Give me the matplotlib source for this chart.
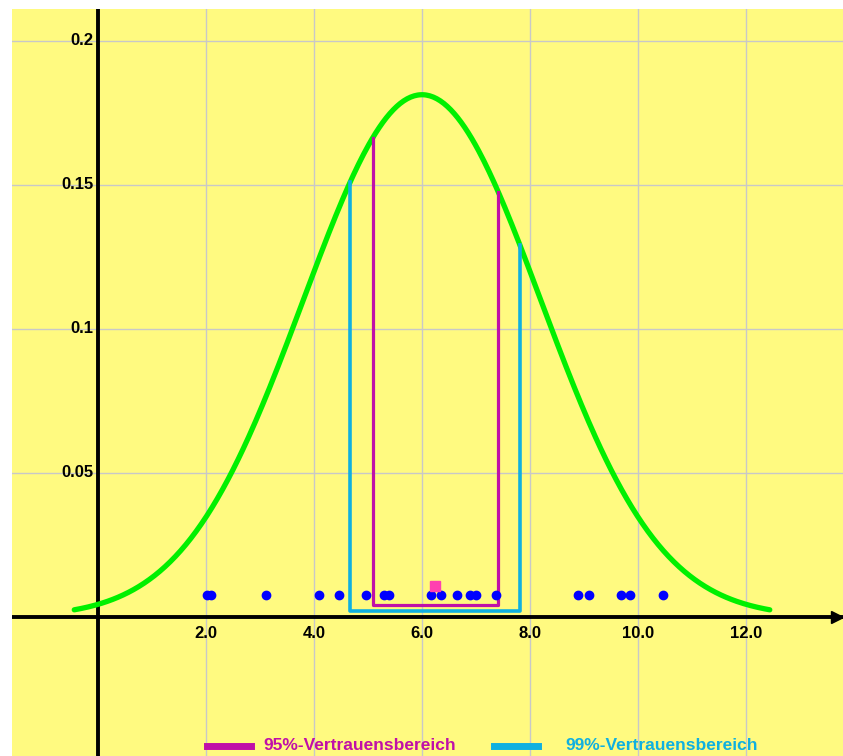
import numpy as np
import matplotlib.pyplot as plt
from matplotlib.lines import Line2D

# --- Daten ---
mu_pop = 6.0          # Erwartungswert der Normalverteilung
sigma_pop = 2.2       # Standardabweichung
curve_from, curve_to = -0.44, 12.44

sample = [2.01, 2.10, 3.11, 4.10, 4.47, 4.96, 5.30, 5.38, 6.17, 6.36,
          6.64, 6.89, 7.00, 7.37, 8.88, 9.09, 9.69, 9.85, 10.46]
sample_y = 0.0076
sample_mean = 6.24
mean_y = 0.0108

ci95 = (5.09, 7.41)
ci95_base = 0.0042
ci99 = (4.67, 7.81)
ci99_base = 0.0020

x_ticks = [2, 4, 6, 8, 10, 12]
x_labels = ["2.0", "4.0", "6.0", "8.0", "10.0", "12.0"]
y_ticks = [0.05, 0.1, 0.15, 0.2]
y_labels = ["0.05", "0.1", "0.15", "0.2"]

legend_labels = ["95%-Vertrauensbereich", "99%-Vertrauensbereich"]

# --- Farben ---
bg = "#FFFA80"
green = "#00F000"
magenta = "#C010A8"
cyan = "#10B0E0"


def pdf(x):
    return np.exp(-0.5 * ((x - mu_pop) / sigma_pop) ** 2) / (sigma_pop * np.sqrt(2 * np.pi))


fig = plt.figure(figsize=(8.43, 7.56), dpi=100)
fig.patch.set_facecolor("white")
ax = fig.add_axes([12 / 843, 0, 1 - 12 / 843, 747 / 756])
ax.set_facecolor(bg)
ax.set_xlim(-1.593, 13.796)
ax.set_ylim(-0.04826, 0.2111)
for s in ax.spines.values():
    s.set_visible(False)

# Gitter
ax.set_xticks(x_ticks)
ax.set_yticks(y_ticks)
ax.tick_params(length=0, labelbottom=False, labelleft=False)
ax.grid(True, color="#C8C8C8", lw=1.0)
ax.set_axisbelow(True)

# Achsen
ax.axhline(0, color="black", lw=2.8, zorder=3)
ax.axvline(0, color="black", lw=2.8, zorder=3)
ax.plot([13.68], [0], marker=">", ms=9, color="black", clip_on=False, zorder=3)

font = dict(family="Liberation Sans", weight="bold", fontsize=12)
for x, lab in zip(x_ticks, x_labels):
    ax.text(x, -0.0058, lab, ha="center", va="center", **font)
for y, lab in zip(y_ticks, y_labels):
    ax.text(-0.09, y, lab, ha="right", va="center", **font)

# Glockenkurve
xs = np.linspace(curve_from, curve_to, 400)
ax.plot(xs, pdf(xs), color=green, lw=3.8, solid_capstyle="round", zorder=4)

# Vertrauensbereiche
lo, hi = ci99
ax.plot([lo, lo, hi, hi], [pdf(lo), ci99_base, ci99_base, pdf(hi)],
        color=cyan, lw=2.6, zorder=5)
lo, hi = ci95
ax.plot([lo, lo, hi, hi], [pdf(lo), ci95_base, ci95_base, pdf(hi)],
        color=magenta, lw=2.3, zorder=6)

# Stichprobe und Mittelwert
ax.plot(sample, [sample_y] * len(sample), "o", color="#0000FF", ms=6, zorder=7)
ax.plot([sample_mean], [mean_y], "s", color="#FF40B0", ms=6.5, zorder=7)

# Legende unten
ly = 10 / 756
fig.add_artist(Line2D([207 / 843, 251 / 843], [ly, ly], color=magenta, lw=5))
fig.text(263 / 843, ly, legend_labels[0], color=magenta, va="center", ha="left",
         family="Liberation Sans", weight="bold", fontsize=12.5)
fig.add_artist(Line2D([494 / 843, 538 / 843], [ly, ly], color=cyan, lw=5))
fig.text(565 / 843, ly, legend_labels[1], color=cyan, va="center", ha="left",
         family="Liberation Sans", weight="bold", fontsize=12.5)

fig.savefig("out.png", dpi=100, facecolor="white")
